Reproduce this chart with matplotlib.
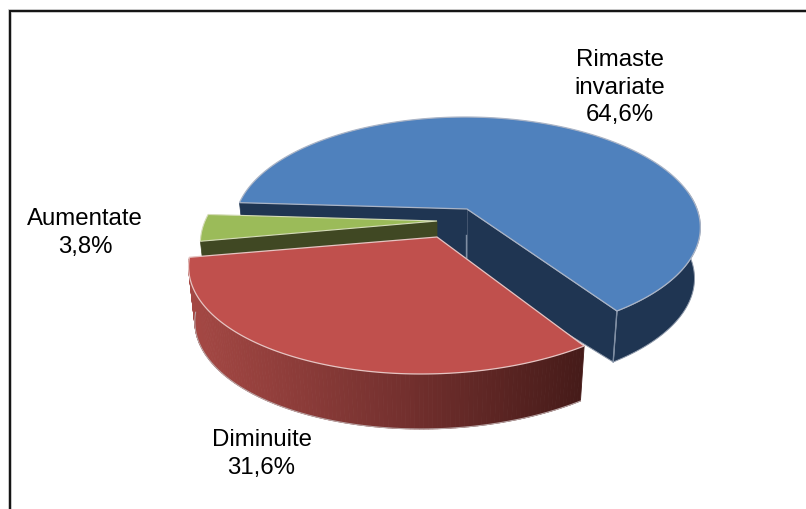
import numpy as np
import matplotlib
matplotlib.use("Agg")
import matplotlib.pyplot as plt
from matplotlib.patches import Polygon

categories = ["Rimaste\ninvariate", "Aumentate", "Diminuite"]
values = [64.6, 3.8, 31.6]

top_colors = ["#4f81bd", "#9bbb59", "#c0504d"]
side_colors = ["#1f3552", "#404823", None]
edge_colors = ["#aab4c6", "#d5dcb8", "#e6c4c2"]
centers = [(467, 210), (437, 222), (437, 238)]
radii = [230, 232, 240]
shears = [2, 0, -16]
depths = [51, 52, 55]
persp = [0.16, 0.197, 0.197]
heights = [106.7, 110.0, 110.0]
label_pos = [(620, 87.5), (85, 233), (261.5, 454)]

START = 56.0
BOTTOM_SCALE = 0.975
APEX_OVERLAP = 12
plt.rcParams["font.family"] = ["Liberation Sans", "DejaVu Sans"]

fig = plt.figure(figsize=(8.06, 5.10), dpi=100)
ax = fig.add_axes([0, 0, 1, 1])
ax.set_xlim(0, 806)
ax.set_ylim(510, 0)
ax.axis("off")

# Only the top and left sides of the chart frame are in the picture
ax.plot([806, 9.5, 9.5], [12, 12, 510], color="#b9b9b9", lw=2.6, zorder=1, solid_joinstyle="miter")
ax.plot([806, 9.5, 9.5], [12, 12, 510], color="#111111", lw=1.4, zorder=1.1, solid_joinstyle="miter")


def project(i, theta):
    t = np.radians(theta)
    u, v = np.cos(t), np.sin(t)
    s = 1 / (1 - persp[i] * v)
    cx, cy = centers[i]
    return cx + radii[i] * u * s + shears[i] * v, cy + heights[i] * v * s


def wedge(i, a0, a1):
    th = np.linspace(a0, a1, 200)
    x, y = project(i, th)
    cx, cy = centers[i]
    return np.column_stack([np.r_[cx, x], np.r_[cy, y]])


def lower(pts, i):
    cx = centers[i][0]
    out = pts + [0, depths[i]]
    out[:, 0] = cx + (pts[:, 0] - cx) * BOTTOM_SCALE
    return out


def extrude(pts, i, **kw):
    poly = np.vstack([pts, lower(pts, i)[::-1]])
    return Polygon(poly, closed=True, **kw)


fr = np.array(values) / sum(values) * 360
ends = START - np.cumsum(fr)
starts = np.r_[START, ends[:-1]]
z = 3

# Blue slice
a0, a1 = starts[0], ends[0]
ck, d = centers[0], depths[0]
th = np.linspace(a0, -10, 120)
xa, ya = project(0, th)
ax.add_patch(extrude(np.column_stack([xa, ya]), 0, fc=side_colors[0], ec="#8f9aab", lw=0.7, zorder=z))
xt, yt = project(0, np.array([a0]))
tip = lower(np.array([[xt[0], yt[0]]]), 0)[0]
inner = [[ck[0], ck[1]], [xt[0], yt[0]], tip, [ck[0], ck[1] + d + APEX_OVERLAP]]
ax.add_patch(Polygon(inner, closed=True, fc=side_colors[0], ec="#8f9aab", lw=0.7, zorder=z))
xl, yl = project(0, np.array([a1]))
face = np.array([[ck[0], ck[1]], [xl[0], yl[0]]], dtype=float)
ax.add_patch(extrude(face, 0, fc=side_colors[0], ec=side_colors[0], lw=0.5, zorder=z))
ax.plot([xt[0], tip[0]], [yt[0], tip[1]], color="#7f8ea3", lw=1.0, zorder=z + 0.5)
ax.plot([ck[0] - 1, ck[0] - 1], [ck[1] + 26, ck[1] + d - 3], color="#7f8ea3", lw=1.0, zorder=z + 0.5)
ax.add_patch(Polygon(wedge(0, a0, a1), closed=True, fc=top_colors[0], ec=edge_colors[0], lw=0.9, zorder=z + 1))

# Green slice
a0, a1 = starts[1], ends[1]
ck = centers[1]
xl, yl = project(1, np.array([a1]))
face = np.array([[ck[0], ck[1]], [xl[0], yl[0]]], dtype=float)
ax.add_patch(extrude(face, 1, fc=side_colors[1], ec=side_colors[1], lw=0.5, zorder=z + 2))
ax.add_patch(Polygon(wedge(1, a0, a1), closed=True, fc=top_colors[1], ec=edge_colors[1], lw=0.8, zorder=z + 3))

# Red slice: the rim darkens from left to right
a0, a1 = starts[2], ends[2]
th = np.linspace(a0, a1, 130)
x, y = project(2, th)
rim = np.column_stack([x, y])
c_l, c_m, c_r = np.array([165, 72, 68]) / 255, np.array([120, 50, 48]) / 255, np.array([70, 27, 25]) / 255
xmin, xmax = x.min(), x.max()
for j in range(len(th) - 1):
    f = (0.5 * (x[j] + x[j + 1]) - xmin) / (xmax - xmin)
    col = c_l + (c_m - c_l) * f / 0.5 if f < 0.5 else c_m + (c_r - c_m) * (f - 0.5) / 0.5
    ax.add_patch(extrude(rim[j:j + 2], 2, fc=col, ec=col, lw=0.6, zorder=z + 4))
rim_low = lower(rim, 2)
ax.plot(rim_low[:, 0], rim_low[:, 1], color="#b9a5a5", lw=0.8, zorder=z + 4.5)
ax.add_patch(Polygon(wedge(2, a0, a1), closed=True, fc=top_colors[2], ec=edge_colors[2], lw=0.9, zorder=z + 5))

for name, val, (lx, ly) in zip(categories, values, label_pos):
    txt = f"{name}\n{val:.1f}%".replace(".", ",")
    ax.text(lx, ly, txt, ha="center", va="center", fontsize=17.3, color="black",
            linespacing=1.3, zorder=20)

fig.savefig("out.png", dpi=100)
